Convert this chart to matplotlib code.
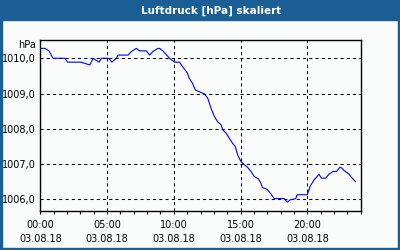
import matplotlib
matplotlib.use("Agg")
import matplotlib.pyplot as plt
from matplotlib.patches import Rectangle
from matplotlib.ticker import MultipleLocator, FixedLocator

# Data (hours since 00:00 on 03.08.18, pressure in hPa)
hours = [0.03, 0.35, 0.65, 0.95, 1.84, 2.04, 3.04, 3.71, 3.96, 4.40, 4.58, 5.13, 5.36,
         5.70, 5.82, 6.57, 6.82, 7.19, 7.44, 7.94, 8.19, 8.43, 8.81, 8.93, 9.18, 9.68,
         10.05, 10.43, 10.57, 10.80, 11.02, 11.16, 11.40, 11.62, 12.04, 12.29, 12.54,
         12.79, 13.04, 13.28, 13.54, 13.66, 13.91, 14.16, 14.40, 14.60, 14.78, 15.03,
         15.28, 15.52, 15.78, 16.02, 16.34, 16.52, 16.64, 16.97, 17.22, 17.52, 18.26,
         18.51, 18.69, 19.13, 19.25, 20.00, 20.20, 20.50, 20.75, 20.87, 21.07, 21.37,
         21.62, 21.92, 22.19, 22.44, 22.61, 22.74, 23.11, 23.36, 23.61]
pressure = [1010.28, 1010.28, 1010.21, 1010.00, 1010.00, 1009.89, 1009.89, 1009.81,
            1010.00, 1009.89, 1010.00, 1010.00, 1009.89, 1010.00, 1010.09, 1010.09,
            1010.19, 1010.28, 1010.21, 1010.21, 1010.09, 1010.19, 1010.28, 1010.28,
            1010.21, 1010.00, 1009.89, 1009.89, 1009.81, 1009.69, 1009.58, 1009.43,
            1009.29, 1009.10, 1009.03, 1008.99, 1008.87, 1008.58, 1008.35, 1008.20,
            1008.11, 1007.97, 1007.88, 1007.73, 1007.59, 1007.50, 1007.26, 1007.07,
            1006.98, 1006.91, 1006.79, 1006.65, 1006.58, 1006.46, 1006.33, 1006.29,
            1006.18, 1006.02, 1006.02, 1005.92, 1005.98, 1006.02, 1006.13, 1006.13,
            1006.36, 1006.55, 1006.65, 1006.71, 1006.60, 1006.60, 1006.71, 1006.79,
            1006.79, 1006.91, 1006.88, 1006.82, 1006.72, 1006.60, 1006.50]
x_ticks = [0, 5, 10, 15, 20]
x_labels = ["00:00\n03.08.18", "05:00\n03.08.18", "10:00\n03.08.18",
            "15:00\n03.08.18", "20:00\n03.08.18"]
y_ticks = [1006, 1007, 1008, 1009, 1010]
y_labels = ["1006,0", "1007,0", "1008,0", "1009,0", "1010,0"]
title = "Luftdruck [hPa] skaliert"
unit = "hPa"

W, H = 400, 250
fig = plt.figure(figsize=(4, 2.5), dpi=100)
fig.patch.set_facecolor("#f9fcfa")

blue = "#1b5e95"
# frame and title bar
fig.patches.append(Rectangle((0, 0), 2 / W, 1, transform=fig.transFigure, color=blue, zorder=0))
fig.patches.append(Rectangle((1 - 2 / W, 0), 2 / W, 1, transform=fig.transFigure, color=blue, zorder=0))
fig.patches.append(Rectangle((0, 0), 1, 2 / H, transform=fig.transFigure, color=blue, zorder=0))
fig.patches.append(Rectangle((0, 1 - 20 / H), 1, 20 / H, transform=fig.transFigure, color=blue, zorder=0))
fig.text(211 / W, 1 - 10.5 / H, title, color="white", fontsize=7.5, fontweight="bold",
         ha="center", va="center", family="DejaVu Sans")

left, right, top, bottom = 40.3, 360.7, 40.0, 210.7
ax = fig.add_axes([left / W, 1 - bottom / H, (right - left) / W, (bottom - top) / H])
ax.set_facecolor("#f9fcfa")
ax.plot(hours, pressure, color="#0000ff", linewidth=0.8, zorder=3)

ax.set_xlim(0, 24)
ax.set_ylim(1005.677, 1010.518)
ax.xaxis.set_major_locator(FixedLocator(x_ticks))
ax.set_xticklabels(x_labels, fontsize=7, linespacing=1.5)
ax.xaxis.set_minor_locator(MultipleLocator(1))
ax.set_yticks(y_ticks)
ax.set_yticklabels(y_labels, fontsize=7)

ax.tick_params(axis="x", which="both", direction="out", length=2.5, width=0.8, pad=4.5, color="black")
ax.tick_params(axis="y", which="both", length=0, pad=3)
ax.grid(True, which="major", color="black", linestyle=(0, (3, 3)), linewidth=0.75)
for s in ax.spines.values():
    s.set_color("black")
    s.set_linewidth(1.0)

ax.text(-0.012, 1.0 - 5 / (bottom - top), unit, transform=ax.transAxes, ha="right", va="center",
        fontsize=7)

fig.savefig("out.png", dpi=100, facecolor=fig.get_facecolor())
